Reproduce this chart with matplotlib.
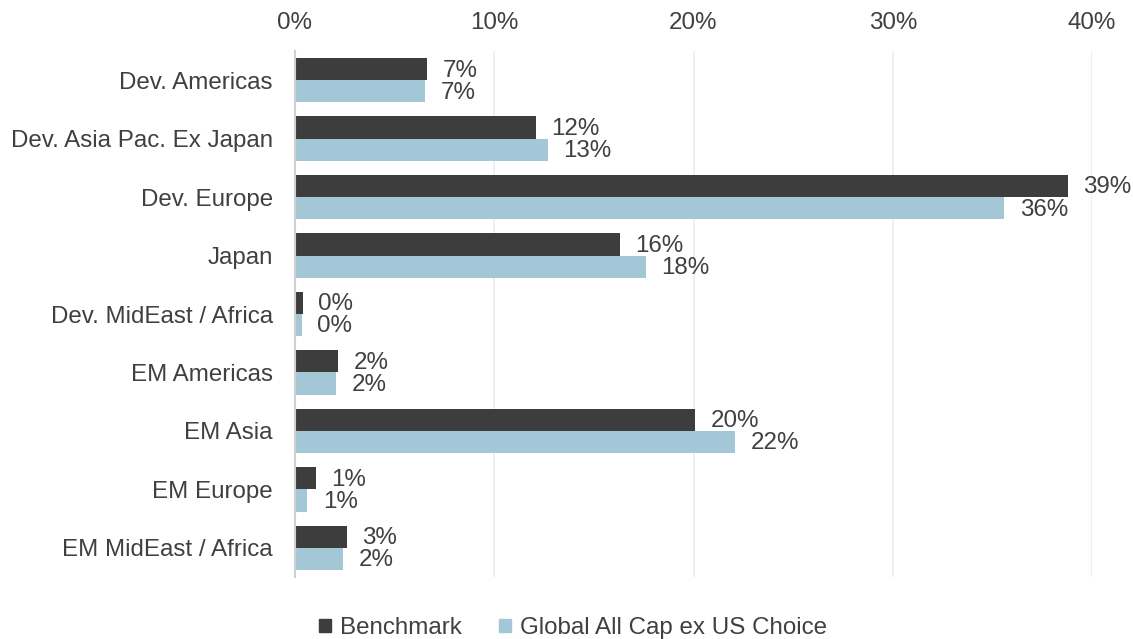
import matplotlib
matplotlib.use("Agg")
import matplotlib.pyplot as plt
import numpy as np
from matplotlib.ticker import FuncFormatter
from matplotlib.patches import Patch

categories = ["Dev. Americas", "Dev. Asia Pac. Ex Japan", "Dev. Europe", "Japan",
              "Dev. MidEast / Africa", "EM Americas", "EM Asia", "EM Europe",
              "EM MidEast / Africa"]
benchmark = [6.63, 12.1, 38.8, 16.3, 0.39, 2.18, 20.1, 1.04, 2.6]
choice = [6.53, 12.7, 35.6, 17.6, 0.35, 2.06, 22.1, 0.62, 2.41]
series_names = ["Benchmark", "Global All Cap ex US Choice"]
xticks = [0, 10, 20, 30, 40]

c_dark = "#3d3d3d"
c_light = "#a4c7d7"
txt = "#404040"
fs = 17.4

plt.rcParams['font.family'] = ['Liberation Sans', 'DejaVu Sans']

fig = plt.figure(figsize=(11.33, 6.39), dpi=100)
ax = fig.add_axes([295/1133, 1-577/639, (1092-295)/1133, (577-51)/639])

y = np.arange(len(categories))
h = 0.38
b1 = ax.barh(y - h/2, benchmark, height=h, color=c_dark)
b2 = ax.barh(y + h/2, choice, height=h, color=c_light)

for bars, vals in ((b1, benchmark), (b2, choice)):
    for rect, v in zip(bars, vals):
        ax.annotate(f"{v:.0f}%", (rect.get_width(), rect.get_y() + rect.get_height()/2),
                    xytext=(11, -1), textcoords="offset points", va="center", ha="left",
                    fontsize=fs, color=txt)

ax.set_ylim(len(categories) - 0.5, -0.5)
ax.set_xlim(0, 40)
ax.set_yticks(y)
ax.set_yticklabels(categories)
ax.set_xticks(xticks)
ax.xaxis.set_major_formatter(FuncFormatter(lambda v, p: f"{v:.0f}%"))
ax.xaxis.tick_top()
ax.tick_params(axis='both', length=0, labelsize=fs, labelcolor=txt)
ax.tick_params(axis='x', pad=12)
ax.tick_params(axis='y', pad=16)
ax.grid(axis='x', color="#ececec", linewidth=1.2)
ax.set_axisbelow(True)
for s in ["top", "right", "bottom"]:
    ax.spines[s].set_visible(False)
ax.spines["left"].set_color("#d0d0d0")
ax.spines["left"].set_linewidth(1.5)

handles = [Patch(color=c_dark, label=series_names[0]), Patch(color=c_light, label=series_names[1])]
fig.legend(handles=handles, loc="center", bbox_to_anchor=(573/1133, 1-628/639), ncol=2,
           frameon=False, fontsize=fs, handlelength=0.5, handleheight=0.5,
           handletextpad=0.4, columnspacing=1.5, labelcolor=txt)

fig.savefig("out.png", dpi=100)
